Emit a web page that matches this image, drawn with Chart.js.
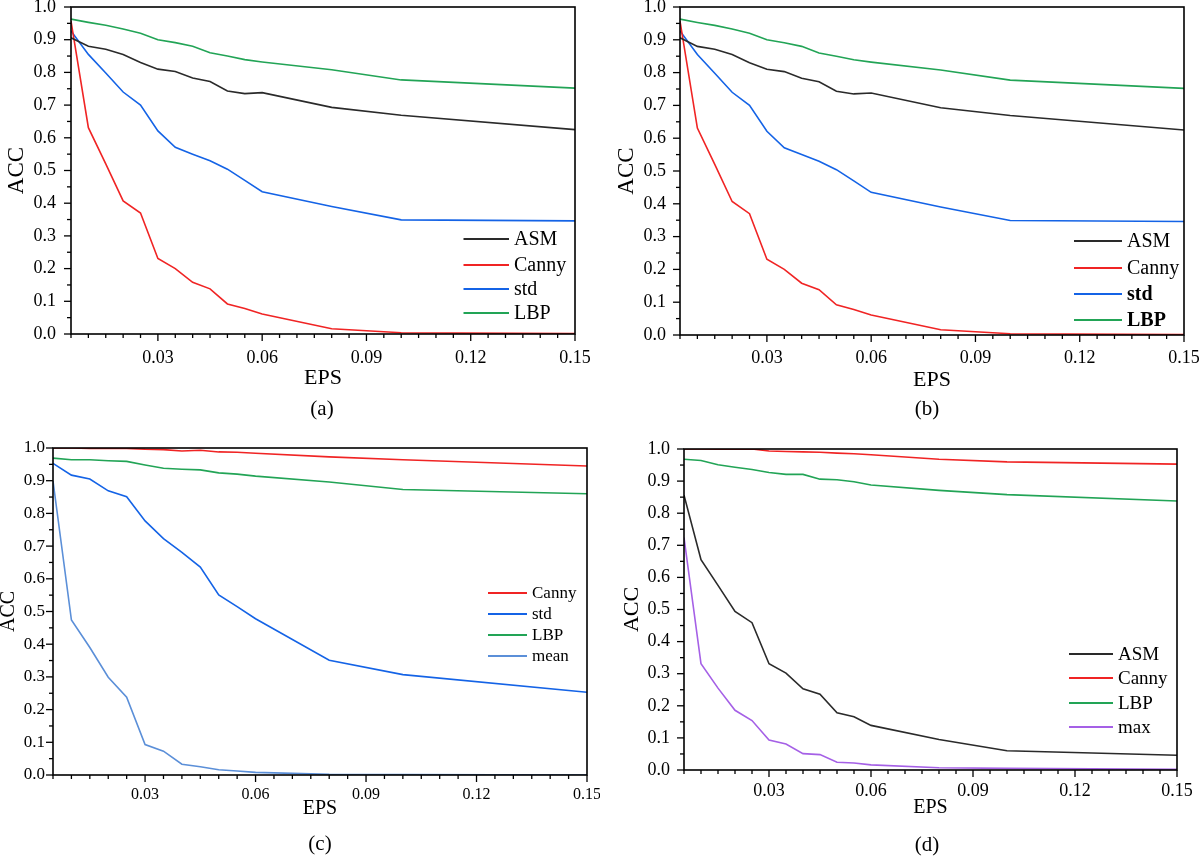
<!DOCTYPE html>
<html>
<head>
<meta charset="utf-8">
<script src="https://cdn.jsdelivr.net/npm/chart.js@4.4.1/dist/chart.umd.min.js"></script>
<style>
html,body{margin:0;padding:0;background:#fff;}
#wrap{position:relative;width:1200px;height:856px;overflow:hidden;background:#fff;}
.panel{position:absolute;width:600px;height:428px;}
.cap{position:absolute;font-family:'Liberation Serif',serif;font-size:21px;color:#000;transform:translate(-50%,-50%);white-space:nowrap;line-height:1;}
</style>
</head>
<body>
<div id="wrap">
  <div class="panel" style="left:0;top:0"><canvas id="pa" width="600" height="428"></canvas></div>
  <div class="panel" style="left:600px;top:0"><canvas id="pb" width="600" height="428"></canvas></div>
  <div class="panel" style="left:0;top:428px"><canvas id="pc" width="600" height="428"></canvas></div>
  <div class="panel" style="left:600px;top:428px"><canvas id="pd" width="600" height="428"></canvas></div>
  <div class="cap" style="left:322px;top:408px">(a)</div>
  <div class="cap" style="left:927px;top:408px">(b)</div>
  <div class="cap" style="left:320px;top:843px">(c)</div>
  <div class="cap" style="left:927px;top:844px">(d)</div>
</div>
<script>
// ---------- data ----------
const eps = [0.005,0.01,0.015,0.02,0.025,0.03,0.035,0.04,0.045,0.05,0.055,0.06,0.08,0.1,0.15];
const xTickValues = [0.03,0.06,0.09,0.12,0.15];
const xTickLabels = ['0.03','0.06','0.09','0.12','0.15'];
const yTickValues = [0,0.1,0.2,0.3,0.4,0.5,0.6,0.7,0.8,0.9,1.0];
const yTickLabels = ['0.0','0.1','0.2','0.3','0.4','0.5','0.6','0.7','0.8','0.9','1.0'];

// panels (a) and (b)
const asmAB   = [0.906,0.880,0.871,0.855,0.830,0.810,0.803,0.783,0.772,0.743,0.735,0.738,0.693,0.669,0.625];
const cannyAB = [0.957,0.631,0.520,0.407,0.370,0.231,0.200,0.158,0.138,0.092,0.078,0.061,0.016,0.004,0.001];
const stdAB   = [0.927,0.855,0.798,0.740,0.700,0.621,0.571,0.550,0.530,0.504,0.470,0.435,0.390,0.349,0.346];
const lbpAB   = [0.963,0.953,0.944,0.933,0.920,0.900,0.891,0.880,0.860,0.850,0.839,0.832,0.808,0.777,0.752];

// panel (c)
const cannyC = [1.000,1.000,0.999,0.999,0.999,0.996,0.995,0.991,0.993,0.988,0.987,0.984,0.973,0.964,0.945];
const stdC   = [0.953,0.917,0.905,0.869,0.851,0.777,0.723,0.681,0.636,0.551,0.515,0.478,0.351,0.307,0.253];
const lbpC   = [0.969,0.964,0.964,0.961,0.959,0.948,0.938,0.935,0.933,0.924,0.920,0.914,0.896,0.873,0.860];
const meanC  = [0.899,0.474,0.390,0.299,0.238,0.093,0.073,0.033,0.025,0.016,0.012,0.008,0.002,0.001,0.000];

// panel (d)
const asmD   = [0.856,0.655,0.575,0.494,0.459,0.331,0.302,0.253,0.236,0.178,0.166,0.139,0.095,0.060,0.046];
const cannyD = [1.000,1.000,0.999,0.999,1.000,0.994,0.992,0.991,0.990,0.987,0.985,0.982,0.968,0.960,0.953];
const lbpD   = [0.968,0.964,0.951,0.943,0.936,0.927,0.921,0.921,0.906,0.904,0.898,0.888,0.871,0.858,0.838];
const maxD   = [0.724,0.331,0.255,0.186,0.154,0.093,0.081,0.051,0.048,0.024,0.022,0.016,0.007,0.005,0.002];

// ---------- styles ----------
const COL = {ASM:'#2a2a2a', Canny:'#f02424', std:'#1463e6', LBP:'#22a456', mean:'#5b8fd8', max:'#a560e6'};
const FONT = "'Liberation Serif', 'Times New Roman', serif";
Chart.defaults.font.family = FONT;
Chart.defaults.color = '#000';

const deco = {
  id: 'deco',
  afterDraw(chart) {
    const o = chart.options.plugins.deco;
    const {ctx, chartArea: a, scales: {x, y}} = chart;
    ctx.save();
    ctx.strokeStyle = '#000';
    ctx.lineWidth = 1.6;
    ctx.strokeRect(a.left, a.top, a.right - a.left, a.bottom - a.top);
    ctx.lineWidth = 1.3;
    // x ticks (major every 0.03, minor every 0.005)
    for (let k = 1; k <= 30; k++) {
      const px = x.getPixelForValue(k * 0.005);
      const len = (k % 6 === 0) ? 7 : 4;
      ctx.beginPath(); ctx.moveTo(px, a.bottom); ctx.lineTo(px, a.bottom + len); ctx.stroke();
    }
    // y ticks (major every 0.1, minor every 0.05)
    for (let k = 0; k <= 20; k++) {
      const py = y.getPixelForValue(k * 0.05);
      const len = (k % 2 === 0) ? 7 : 4;
      ctx.beginPath(); ctx.moveTo(a.left, py); ctx.lineTo(a.left - len, py); ctx.stroke();
    }
    // legend
    const L = o.legend;
    chart.data.datasets.forEach((ds, i) => {
      const ry = a.bottom + L.rows[i];
      ctx.strokeStyle = ds.borderColor;
      ctx.lineWidth = 1.8;
      ctx.beginPath(); ctx.moveTo(a.right + L.x0, ry); ctx.lineTo(a.right + L.x1, ry); ctx.stroke();
      ctx.fillStyle = '#000';
      ctx.font = (L.bold && L.bold[i] ? 'bold ' : '') + L.size + 'px ' + FONT;
      ctx.textBaseline = 'middle';
      ctx.textAlign = 'left';
      ctx.fillText(ds.label, a.right + L.tx, ry + 1);
    });
    ctx.restore();
  }
};

function makePanel(id, series, p) {
  const datasets = series.map(s => ({
    label: s.name,
    data: eps.map((xv, i) => ({x: xv, y: s.values[i]})),
    borderColor: COL[s.name],
    borderWidth: 1.6,
    pointRadius: 0,
    tension: 0,
    fill: false
  }));
  new Chart(document.getElementById(id), {
    type: 'line',
    data: {datasets},
    options: {
      responsive: false,
      animation: false,
      layout: {padding: {left: 0, top: p.T, right: 600 - p.R, bottom: 428 - p.B - 60}},
      plugins: {legend: {display: false}, tooltip: {enabled: false}, deco: {legend: p.legend}},
      scales: {
        x: {
          type: 'linear', min: 0.005, max: 0.15,
          afterBuildTicks: s => { s.ticks = xTickValues.map(v => ({value: v})); },
          afterFit: s => { s.height = 60; s.paddingLeft = 0; s.paddingRight = 0; },
          grid: {display: false, drawTicks: false},
          border: {display: false},
          ticks: {autoSkip: false, maxRotation: 0, padding: p.xPad, color: '#000',
                  font: {size: p.xFont}, callback: (v, i) => xTickLabels[i]},
          title: {display: true, text: 'EPS', color: '#000', font: {size: p.xtFont},
                  padding: {top: 0, bottom: p.xtPad}}
        },
        y: {
          type: 'linear', min: 0, max: 1,
          afterBuildTicks: s => { s.ticks = yTickValues.map(v => ({value: v})); },
          afterFit: s => { s.width = p.L; s.paddingTop = 0; s.paddingBottom = 0; },
          grid: {display: false, drawTicks: false},
          border: {display: false},
          ticks: {autoSkip: false, padding: p.yPad, color: '#000',
                  font: {size: p.yFont}, callback: (v, i) => yTickLabels[i]},
          title: {display: true, text: 'ACC', color: '#000', font: {size: p.ytFont, lineHeight: 1},
                  padding: {top: p.ytPad, bottom: 0}}
        }
      }
    },
    plugins: [deco]
  });
}

makePanel('pa', [
  {name: 'ASM', values: asmAB}, {name: 'Canny', values: cannyAB},
  {name: 'std', values: stdAB}, {name: 'LBP', values: lbpAB}
], {L: 71, T: 7, R: 575, B: 334, xFont: 18, yFont: 18, xPad: 13, yPad: 15, xtFont: 22, xtPad: 3, ytFont: 23, ytPad: 5,
    legend: {x0: -111.5, x1: -66, tx: -61, rows: [-95, -69, -45, -21], size: 20}});

makePanel('pb', [
  {name: 'ASM', values: asmAB}, {name: 'Canny', values: cannyAB},
  {name: 'std', values: stdAB}, {name: 'LBP', values: lbpAB}
], {L: 80, T: 7, R: 584, B: 335, xFont: 18, yFont: 18, xPad: 12, yPad: 14, xtFont: 22, xtPad: 2, ytFont: 23, ytPad: 15,
    legend: {x0: -110, x1: -62, tx: -57, rows: [-94, -67, -41, -15], size: 20, bold: [false, false, true, true]}});

makePanel('pc', [
  {name: 'Canny', values: cannyC}, {name: 'std', values: stdC},
  {name: 'LBP', values: lbpC}, {name: 'mean', values: meanC}
], {L: 53, T: 20, R: 587, B: 347, xFont: 16, yFont: 17, xPad: 10, yPad: 8, xtFont: 20, xtPad: 14, ytFont: 20, ytPad: -1,
    legend: {x0: -99, x1: -60, tx: -55, rows: [-182, -161, -140, -119], size: 17}});

makePanel('pd', [
  {name: 'ASM', values: asmD}, {name: 'Canny', values: cannyD},
  {name: 'LBP', values: lbpD}, {name: 'max', values: maxD}
], {L: 84, T: 21, R: 577, B: 342, xFont: 18, yFont: 18, xPad: 10, yPad: 14, xtFont: 20, xtPad: 10, ytFont: 22, ytPad: 21,
    legend: {x0: -108, x1: -64, tx: -59, rows: [-116, -92, -67, -43], size: 19}});
</script>
</body>
</html>
